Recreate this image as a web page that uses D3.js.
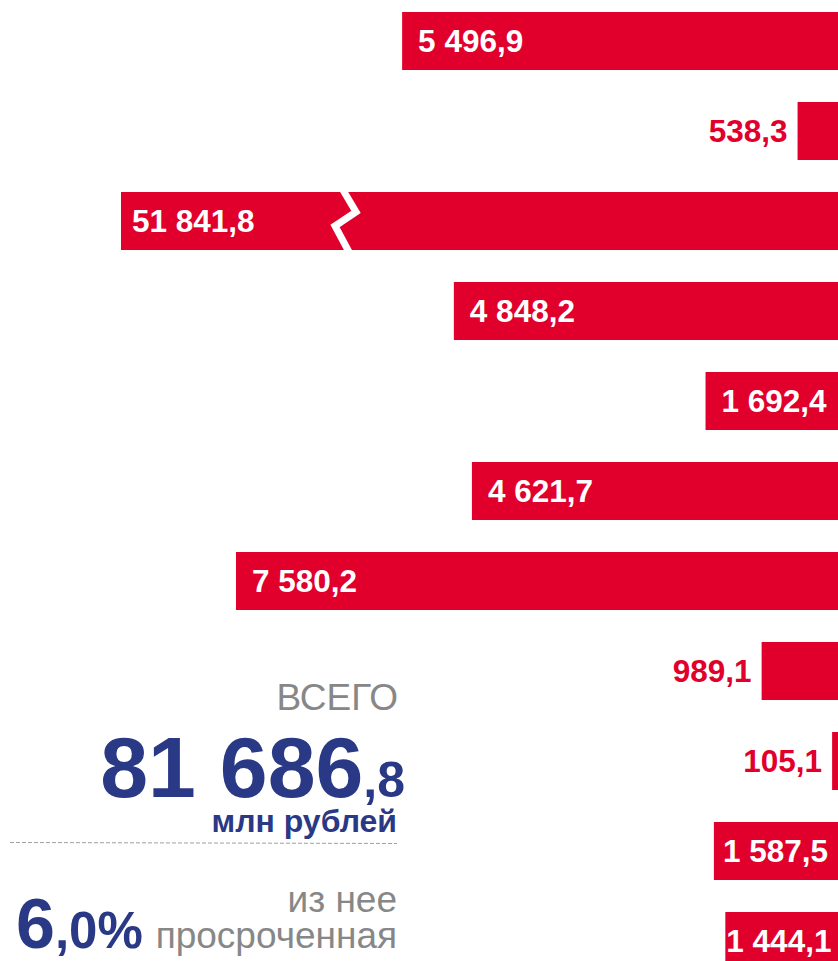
<!DOCTYPE html>
<html>
<head>
<meta charset="utf-8">
<script src="https://cdn.jsdelivr.net/npm/d3@7"></script>
<style>
  html, body { margin: 0; padding: 0; background: #fff; }
  svg { display: block; font-family: "Liberation Sans", Arial, sans-serif; }
</style>
</head>
<body>
<div id="chartDiv"></div>
<script>
// bar values, top to bottom (млн рублей)
const barValues = [5496.9, 538.3, 51841.8, 4848.2, 1692.4, 4621.7, 7580.2, 989.1, 105.1, 1587.5, 1444.1];
const barLabels = ["5 496,9", "538,3", "51 841,8", "4 848,2", "1 692,4", "4 621,7", "7 580,2", "989,1", "105,1", "1 587,5", "1 444,1"];

// summary block
const totalMain = ["81 686", ",8"];
const totalTitle = "ВСЕГО";
const totalUnit = "млн рублей";
const overdueMain = ["6", ",0%"];
const overdueText = ["из нее", "просроченная"];

const W = 838, H = 961;
const RED = "#e1002b", NAVY = "#2a3985", GREY = "#878787";

function makeSvg(parID){
	const div = document.getElementById(parID);
	const svg = d3.select(div).append("svg")
		.attr("width", W)
		.attr("height", H);
	return svg;
}

function buildBars(svg){
	// bars grow leftwards from the right edge, the big one is clamped and broken
	const x = d3.scaleLinear()
		.domain([0, 9022])
		.range([840.5, 121])
		.clamp(true);

	const y = d3.scaleBand()
		.domain(d3.range(barValues.length))
		.range([12, 970])
		.paddingInner(32 / 90)
		.paddingOuter(0);

	const g = svg.append("g").attr("class", "bars");

	const rows = g.selectAll("g.row")
		.data(barValues)
		.enter()
		.append("g")
		.attr("class", "row");

	rows.append("rect")
		.attr("x", d => x(d))
		.attr("y", (d, i) => y(i))
		.attr("width", d => x(0) - x(d))
		.attr("height", y.bandwidth())
		.attr("fill", RED);

	rows.append("text")
		.text((d, i) => barLabels[i])
		.attr("y", (d, i) => y(i) + y.bandwidth() / 2 + 11)
		.attr("font-size", 31.5)
		.attr("font-weight", "bold")
		.each(function(d){
			const t = d3.select(this);
			const tw = this.getComputedTextLength();
			const bw = x(0) - x(d);
			if (bw < tw + 8) {
				// too narrow: red label outside, left of the bar
				t.attr("x", x(d) - 10).attr("text-anchor", "end").attr("fill", RED);
			} else {
				let pad = Math.min(16, Math.max(1, (838 - x(d)) - tw - 10));
				if (d > x.domain()[1]) pad = 11;
				t.attr("x", x(d) + pad).attr("text-anchor", "start").attr("fill", "#fff");
			}
		});

	// break mark on clamped bars
	barValues.forEach((d, i) => {
		if (d <= x.domain()[1]) return;
		const top = y(i), b = y.bandwidth();
		const bx = x(x.domain()[1]) + 224;
		g.append("path")
			.attr("d", d3.line()([
				[bx - 2, top - 2],
				[bx + 11, top + 20],
				[bx - 10, top + 34],
				[bx + 4, top + b + 2]
			]))
			.attr("fill", "none")
			.attr("stroke", "#fff")
			.attr("stroke-width", 7)
			.attr("stroke-linejoin", "miter");
	});
}

function buildSummary(svg){
	const g = svg.append("g").attr("class", "summary");

	g.append("text")
		.attr("x", 398).attr("y", 710)
		.attr("text-anchor", "end")
		.attr("font-size", 37)
		.attr("fill", GREY)
		.text(totalTitle);

	const tot = g.append("text")
		.attr("x", 405).attr("y", 797)
		.attr("text-anchor", "end")
		.attr("font-weight", "bold")
		.attr("fill", NAVY);
	tot.append("tspan").attr("font-size", 86).text(totalMain[0]);
	tot.append("tspan").attr("font-size", 50).text(totalMain[1]);

	g.append("text")
		.attr("x", 397).attr("y", 832)
		.attr("text-anchor", "end")
		.attr("font-size", 32)
		.attr("font-weight", "bold")
		.attr("fill", NAVY)
		.text(totalUnit);

	g.append("line")
		.attr("x1", 10).attr("x2", 397)
		.attr("y1", 842.5).attr("y2", 843.5)
		.attr("stroke", "#a0a0a0")
		.attr("stroke-width", 1)
		.attr("stroke-dasharray", "4,2");

	g.append("text")
		.attr("x", 397).attr("y", 912)
		.attr("text-anchor", "end")
		.attr("font-size", 37)
		.attr("fill", GREY)
		.text(overdueText[0]);

	const pct = g.append("text")
		.attr("x", 16).attr("y", 948)
		.attr("font-weight", "bold")
		.attr("fill", NAVY);
	pct.append("tspan").attr("font-size", 70).text(overdueMain[0]);
	pct.append("tspan").attr("font-size", 51).text(overdueMain[1]);

	g.append("text")
		.attr("x", 397).attr("y", 948)
		.attr("text-anchor", "end")
		.attr("font-size", 37)
		.attr("fill", GREY)
		.text(overdueText[1]);
}

const svg = makeSvg("chartDiv");
buildBars(svg);
buildSummary(svg);
</script>
</body>
</html>
